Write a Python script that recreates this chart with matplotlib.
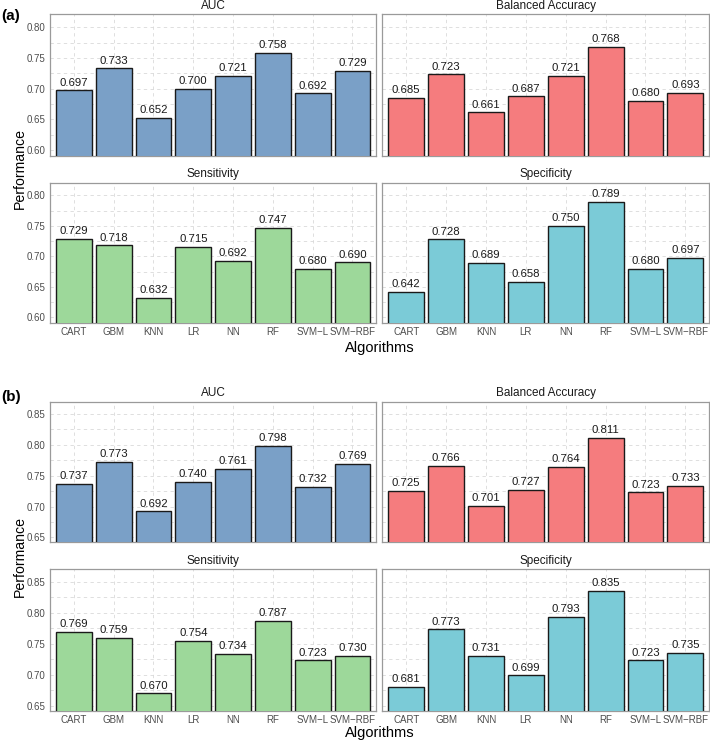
import matplotlib
matplotlib.use("Agg")
import matplotlib.pyplot as plt
from matplotlib.ticker import MultipleLocator

plt.rcParams["font.family"] = ["Liberation Sans", "DejaVu Sans"]

algorithms = ["CART", "GBM", "KNN", "LR", "NN", "RF", "SVM\u2212L", "SVM\u2212RBF"]
metrics = ["AUC", "Balanced Accuracy", "Sensitivity", "Specificity"]
colors = ["#7aa0c7", "#f57c7e", "#9dd89a", "#7bcbd7"]

# panel (a)
a_auc = [0.697, 0.733, 0.652, 0.700, 0.721, 0.758, 0.692, 0.729]
a_bal = [0.685, 0.723, 0.661, 0.687, 0.721, 0.768, 0.680, 0.693]
a_sens = [0.729, 0.718, 0.632, 0.715, 0.692, 0.747, 0.680, 0.690]
a_spec = [0.642, 0.728, 0.689, 0.658, 0.750, 0.789, 0.680, 0.697]

# panel (b)
b_auc = [0.737, 0.773, 0.692, 0.740, 0.761, 0.798, 0.732, 0.769]
b_bal = [0.725, 0.766, 0.701, 0.727, 0.764, 0.811, 0.723, 0.733]
b_sens = [0.769, 0.759, 0.670, 0.754, 0.734, 0.787, 0.723, 0.730]
b_spec = [0.681, 0.773, 0.731, 0.699, 0.793, 0.835, 0.723, 0.735]

W, H = 710, 741
fig = plt.figure(figsize=(W / 100, H / 100), dpi=100)


def px_axes(x0, y0, x1, y1):
    return fig.add_axes([x0 / W, 1 - y1 / H, (x1 - x0) / W, (y1 - y0) / H])


def facet(ax, vals, color, title, ylim, yticks, show_x, show_y):
    xs = range(len(vals))
    ax.bar(xs, vals, width=0.9, color=color, edgecolor="#1a1a1a", linewidth=1.0,
           zorder=3)
    for x, v in zip(xs, vals):
        ax.annotate(f"{v:.3f}", (x, v), xytext=(0, 2), textcoords="offset points",
                    ha="center", va="bottom", fontsize=8.2, color="#1a1a1a", zorder=4)
    ax.set_xlim(-0.6, len(vals) - 0.4)
    ax.set_ylim(*ylim)
    ax.set_yticks(yticks)
    ax.yaxis.set_minor_locator(MultipleLocator(0.025))
    ax.set_xticks(list(xs))
    ax.grid(True, which="both", color="#d9d9d9", linestyle=(0, (4, 4)), linewidth=0.6,
            zorder=0)
    for s in ax.spines.values():
        s.set_color("#9a9a9a")
        s.set_linewidth(0.9)
    ax.tick_params(which="both", length=0, colors="#4d4d4d", labelsize=7, pad=3)
    if show_x:
        ax.set_xticklabels(algorithms)
    else:
        ax.set_xticklabels([])
    if show_y:
        ax.set_yticklabels([f"{t:.2f}" for t in yticks])
    else:
        ax.set_yticklabels([])
    ax.set_title(title, fontsize=8.5, color="#1a1a1a", pad=4)


blocks = [
    ("(a)", [a_auc, a_bal, a_sens, a_spec], (0.590, 0.821),
     [0.60, 0.65, 0.70, 0.75, 0.80], [(14.3, 156), (182.7, 323.3)], 352, 16),
    ("(b)", [b_auc, b_bal, b_sens, b_spec], (0.642, 0.870),
     [0.65, 0.70, 0.75, 0.80, 0.85], [(401.7, 542.3), (569.3, 710.7)], 736.5, 397),
]
cols = [(50, 376.3), (382.3, 709.3)]

for label, series, ylim, yticks, rows, xlab_y, lab_y in blocks:
    for i, vals in enumerate(series):
        r, c = divmod(i, 2)
        ax = px_axes(cols[c][0], rows[r][0], cols[c][1], rows[r][1])
        facet(ax, vals, colors[i], metrics[i], ylim, yticks, r == 1, c == 0)
    fig.text(1 / W, 1 - lab_y / H, label, fontsize=11, fontweight="bold",
             ha="left", va="center")
    fig.text(380 / W, 1 - xlab_y / H, "Algorithms", fontsize=10.5, ha="center",
             va="baseline")
    mid = (rows[0][0] + rows[1][1]) / 2
    fig.text(20 / W, 1 - mid / H, "Performance", fontsize=10.2, rotation=90,
             ha="center", va="center")

fig.savefig("out.png", dpi=100)
